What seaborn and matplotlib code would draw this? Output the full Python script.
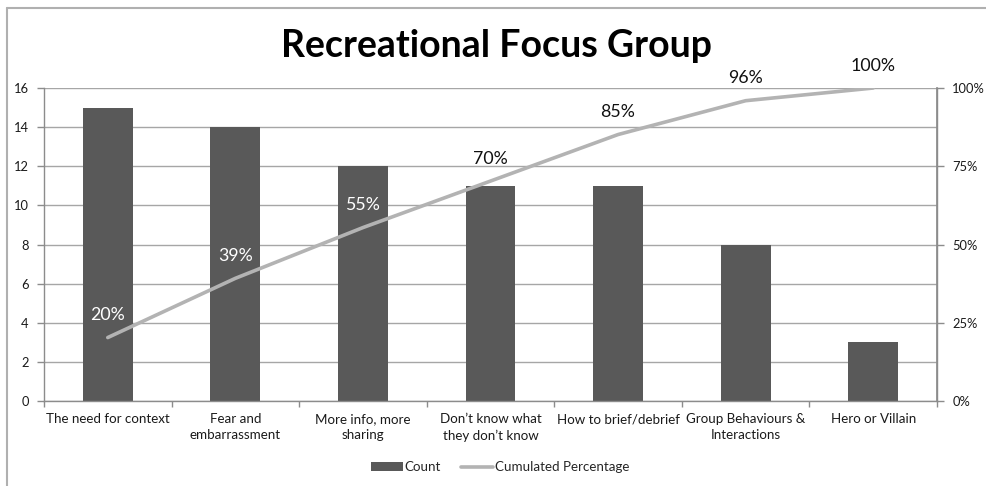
import numpy as np
import matplotlib
matplotlib.use("Agg")
import matplotlib.pyplot as plt
from matplotlib.patches import Patch
from matplotlib.lines import Line2D
import seaborn as sns

categories = [
    "The need for context",
    "Fear and\nembarrassment",
    "More info, more\nsharing",
    "Don\u2019t know what\nthey don\u2019t know",
    "How to brief/debrief",
    "Group Behaviours &\nInteractions",
    "Hero or Villain",
]
counts = [15, 14, 12, 11, 11, 8, 3]
left_ticks = [0, 2, 4, 6, 8, 10, 12, 14, 16]
right_ticks = [0, 25, 50, 75, 100]

cum_pct = np.cumsum(counts) / np.sum(counts) * 100

BAR = "#595959"
LINE = "#b3b3b3"
GRID = "#a6a6a6"
SPINE = "#8c8c8c"
TEXT = "#1a1a1a"

sns.set_theme(style="white")
plt.rcParams["font.family"] = ["Lato", "DejaVu Sans"]

fig = plt.figure(figsize=(9.86, 4.86), dpi=100)
ax = fig.add_axes([0.0446, 0.1749, 0.9057, 0.644])

sns.barplot(x=categories, y=counts, color=BAR, saturation=1, width=0.39,
            edgecolor="none", ax=ax)
ax.set_xlim(-0.5, len(categories) - 0.5)
ax.set_ylim(0, 16)
ax.set_yticks(left_ticks)
ax.set_axisbelow(True)
ax.yaxis.grid(True, color=GRID, linewidth=1)
ax.xaxis.grid(False)
ax.set_xlabel("")
ax.set_ylabel("")

ax.spines["top"].set_visible(False)
for side in ["left", "bottom", "right"]:
    ax.spines[side].set_color(SPINE)
    ax.spines[side].set_linewidth(1)

ax.tick_params(axis="y", which="major", left=True, length=5, width=1,
               color=SPINE, labelsize=9.3, labelcolor=TEXT, pad=6)
ax.set_xticks(np.arange(len(categories)))
ax.set_xticklabels(categories, fontsize=9.6, color=TEXT, linespacing=1.35)
ax.set_xticks(np.arange(len(categories) + 1) - 0.5, minor=True)
ax.tick_params(axis="x", which="major", length=0, pad=9)
ax.tick_params(axis="x", which="minor", bottom=True, length=4, width=1,
               color=SPINE)

ax2 = ax.twinx()
sns.lineplot(x=np.arange(len(categories)), y=cum_pct, color=LINE,
             linewidth=2.6, sort=False, ax=ax2)
ax2.set_ylim(0, 100)
ax2.set_yticks(right_ticks)
ax2.set_yticklabels([f"{t}%" for t in right_ticks])
ax2.set_ylabel("")
ax2.grid(False)
for side in ["top", "left", "bottom"]:
    ax2.spines[side].set_visible(False)
ax2.spines["right"].set_color(SPINE)
ax2.tick_params(axis="y", right=True, length=5, width=1, color=SPINE,
                labelsize=9.3, labelcolor=TEXT, pad=6)

# value labels above each point of the cumulative line
offset_pts = 16
offset_units = offset_pts * fig.dpi / 72 / (ax.bbox.height) * 16
for i, p in enumerate(cum_pct):
    label_y = p * 16 / 100 + offset_units
    color = "white" if label_y < counts[i] else "#111111"
    ax2.annotate(f"{p:.0f}%", (i, p), xytext=(0, offset_pts),
                 textcoords="offset points", ha="center", va="center",
                 fontsize=12.8, color=color)

fig.text(0.504, 0.905, "Recreational Focus Group", ha="center", va="center",
         fontsize=27, fontweight="bold", color="black")

handles = [Patch(facecolor=BAR, edgecolor="none"),
           Line2D([0], [0], color=LINE, linewidth=2.6)]
fig.legend(handles, ["Count", "Cumulated Percentage"], loc="center",
           bbox_to_anchor=(0.507, 0.039), ncol=2, frameon=False,
           fontsize=9.6, handlelength=2.4, handleheight=0.6,
           columnspacing=1.5, handletextpad=0.15)

# chart frame
fig.add_artist(Line2D([0.0071, 0.0071], [0.0, 0.984], transform=fig.transFigure,
                      color="#b0b0b0", linewidth=1.5))
fig.add_artist(Line2D([0.0071, 1.0], [0.984, 0.984], transform=fig.transFigure,
                      color="#b0b0b0", linewidth=1.5))

fig.savefig("out.png", dpi=100)
